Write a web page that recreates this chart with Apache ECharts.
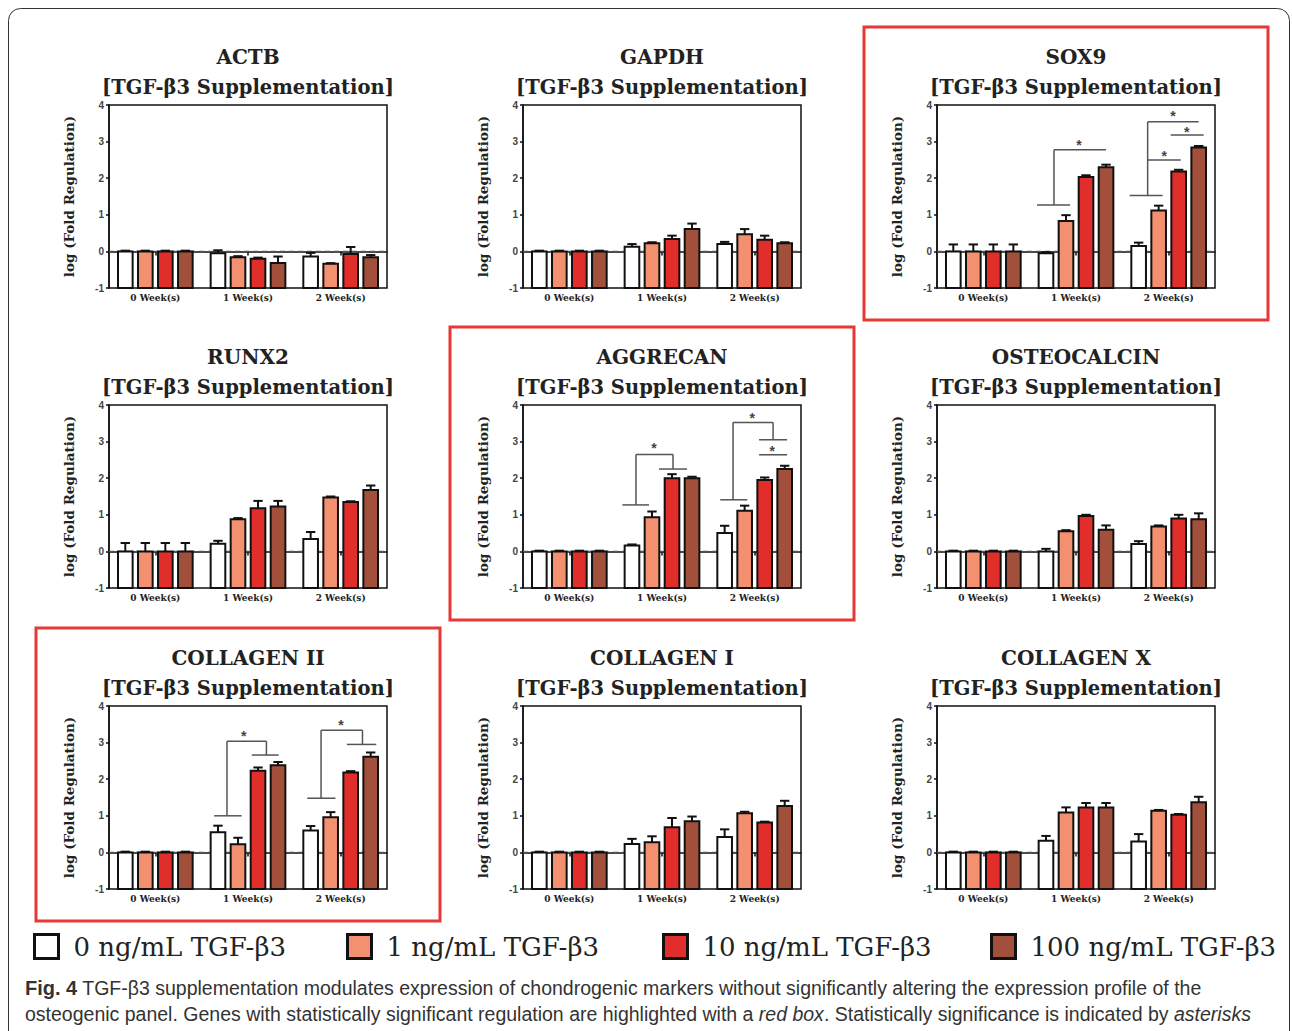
<!DOCTYPE html>
<html>
<head>
<meta charset="utf-8">
<script src="https://cdn.jsdelivr.net/npm/echarts/dist/echarts.min.js"></script>
<style>html,body{margin:0;padding:0;background:#fff}#c{width:1292px;height:1031px}</style>
</head>
<body>
<div id="c"></div>
<script>
// ---------------- DATA ----------------
const weeks = ['0 Week(s)', '1 Week(s)', '2 Week(s)'];
const doses = ['0 ng/mL TGF-β3', '1 ng/mL TGF-β3', '10 ng/mL TGF-β3', '100 ng/mL TGF-β3'];
const genes = ['ACTB', 'GAPDH', 'SOX9', 'RUNX2', 'AGGRECAN', 'OSTEOCALCIN', 'COLLAGEN II', 'COLLAGEN I', 'COLLAGEN X'];
const highlighted = ['SOX9', 'AGGRECAN', 'COLLAGEN II'];
const yTicks = [-1, 0, 1, 2, 3, 4];
const subTitle = '[TGF-β3 Supplementation]';
const yName = 'log (Fold Regulation)';

// mean[dose][week], err[dose][week]
const actbMean = [[0, -0.05, -0.14], [0, -0.16, -0.34], [0, -0.2, -0.07], [0, -0.32, -0.16]];
const actbErr  = [[0.02, 0.08, 0.1], [0.02, 0.03, 0.02], [0.02, 0.03, 0.19], [0.02, 0.18, 0.06]];
const gapdhMean = [[0, 0.13, 0.2], [0, 0.22, 0.47], [0, 0.34, 0.32], [0, 0.61, 0.22]];
const gapdhErr  = [[0.02, 0.07, 0.06], [0.02, 0.03, 0.14], [0.02, 0.09, 0.11], [0.02, 0.15, 0.03]];
const sox9Mean = [[0, -0.05, 0.15], [0, 0.83, 1.12], [0, 2.03, 2.18], [0, 2.3, 2.84]];
const sox9Err  = [[0.19, 0.03, 0.09], [0.19, 0.16, 0.13], [0.19, 0.05, 0.05], [0.19, 0.07, 0.04]];
const runx2Mean = [[0, 0.21, 0.34], [0, 0.88, 1.47], [0, 1.18, 1.35], [0, 1.23, 1.68]];
const runx2Err  = [[0.23, 0.08, 0.19], [0.23, 0.03, 0.03], [0.23, 0.2, 0.02], [0.23, 0.15, 0.12]];
const aggMean = [[0, 0.16, 0.5], [0, 0.93, 1.11], [0, 2.0, 1.95], [0, 2.0, 2.25]];
const aggErr  = [[0.02, 0.03, 0.2], [0.02, 0.16, 0.14], [0.02, 0.11, 0.07], [0.02, 0.04, 0.09]];
const ocnMean = [[0, 0, 0.2], [0, 0.55, 0.68], [0, 0.97, 0.9], [0, 0.59, 0.88]];
const ocnErr  = [[0.02, 0.07, 0.08], [0.02, 0.03, 0.03], [0.02, 0.03, 0.1], [0.02, 0.12, 0.16]];
const col2Mean = [[0, 0.55, 0.6], [0, 0.22, 0.96], [0, 2.23, 2.18], [0, 2.38, 2.61]];
const col2Err  = [[0.02, 0.18, 0.12], [0.02, 0.18, 0.14], [0.02, 0.09, 0.04], [0.02, 0.09, 0.12]];
const col1Mean = [[0, 0.23, 0.42], [0, 0.28, 1.07], [0, 0.69, 0.82], [0, 0.85, 1.27]];
const col1Err  = [[0.02, 0.14, 0.21], [0.02, 0.16, 0.04], [0.02, 0.25, 0.02], [0.02, 0.13, 0.14]];
const col10Mean = [[0, 0.32, 0.3], [0, 1.09, 1.14], [0, 1.23, 1.03], [0, 1.23, 1.37]];
const col10Err  = [[0.02, 0.13, 0.2], [0.02, 0.14, 0.02], [0.02, 0.12, 0.02], [0.02, 0.12, 0.15]];

// significance brackets: [week, slotA, valueA, slotB, valueB]; stars: [week, slot, value]
const sox9Lines = [[1, -0.45, 1.27, 1.2, 1.27], [1, 0.4, 1.27, 0.4, 2.78], [1, 0.4, 2.78, 3.0, 2.78],
  [2, -0.45, 1.53, 1.2, 1.53], [2, 0.45, 1.53, 0.45, 3.54], [2, 0.45, 3.54, 3.0, 3.54],
  [2, 0.45, 2.5, 2.1, 2.5], [2, 1.6, 3.18, 3.25, 3.18]];
const sox9Stars = [[1, 1.65, 3.0], [2, 1.72, 3.77], [2, 1.28, 2.69], [2, 2.4, 3.34]];
const aggLines = [[1, -0.48, 1.27, 0.85, 1.27], [1, 0.2, 1.27, 0.2, 2.65], [1, 0.2, 2.65, 2.05, 2.65],
  [1, 2.05, 2.65, 2.05, 2.25], [1, 1.35, 2.25, 2.75, 2.25],
  [2, -0.22, 1.41, 1.13, 1.41], [2, 0.42, 1.41, 0.42, 3.52], [2, 0.42, 3.52, 2.42, 3.52],
  [2, 2.42, 3.52, 2.42, 3.05], [2, 1.72, 3.05, 3.12, 3.05], [2, 1.72, 2.64, 3.12, 2.64]];
const aggStars = [[1, 1.1, 2.91], [2, 1.38, 3.73], [2, 2.38, 2.82]];
const col2Lines = [[1, -0.19, 1.0, 1.18, 1.0], [1, 0.45, 1.0, 0.45, 3.04], [1, 0.45, 3.04, 2.42, 3.04],
  [1, 2.42, 3.04, 2.42, 2.66], [1, 1.69, 2.66, 3.03, 2.66],
  [2, -0.17, 1.48, 1.24, 1.48], [2, 0.52, 1.48, 0.52, 3.34], [2, 0.52, 3.34, 2.59, 3.34],
  [2, 2.59, 3.34, 2.59, 2.95], [2, 1.81, 2.95, 3.28, 2.95]];
const col2Stars = [[1, 1.29, 3.27], [2, 1.52, 3.56]];

const caption1 = '{b|Fig. 4} TGF-β3 supplementation modulates expression of chondrogenic markers without significantly altering the expression profile of the';
const caption2 = 'osteogenic panel. Genes with statistically significant regulation are highlighted with a {i|red box}. Statistically significance is indicated by {i|asterisks}';

// ---------------- STYLE / LAYOUT ----------------
const colors = ['#FFFFFF', '#F3906F', '#E22E2A', '#A24F3C'];
const colLefts = [109, 523, 937];
const rowTops = [105, 405, 706];
const gridW = 278, gridH = 183;
const PITCH = 0.216, BARW = 0.158;
const SERIF = '"DejaVu Serif", "Liberation Serif", serif';
const SANS = '"Liberation Sans", Arial, sans-serif';

const panelData = [
  [actbMean, actbErr, [], []],
  [gapdhMean, gapdhErr, [], []],
  [sox9Mean, sox9Err, sox9Lines, sox9Stars],
  [runx2Mean, runx2Err, [], []],
  [aggMean, aggErr, aggLines, aggStars],
  [ocnMean, ocnErr, [], []],
  [col2Mean, col2Err, col2Lines, col2Stars],
  [col1Mean, col1Err, [], []],
  [col10Mean, col10Err, [], []]
];

function barRenderer(slot) {
  return function (params, api) {
    const cat = api.value(0), v = api.value(1), e = api.value(2);
    const band = api.size([1, 0])[0];
    const pitch = band * PITCH, bw = band * BARW;
    const top = api.coord([cat, v]);
    const base = api.coord([cat, yTicks[0]]);
    const cx = top[0] + (slot - 1.5) * pitch;
    const ey = api.coord([cat, v + e])[1];
    const cap = bw * 0.32;
    return {
      type: 'group',
      children: [
        { type: 'rect', shape: { x: cx - bw / 2, y: top[1], width: bw, height: base[1] - top[1] },
          style: { fill: colors[slot], stroke: '#111', lineWidth: 2 } },
        { type: 'line', shape: { x1: cx, y1: top[1], x2: cx, y2: ey }, style: { stroke: '#111', lineWidth: 2 } },
        { type: 'line', shape: { x1: cx - cap, y1: ey, x2: cx + cap, y2: ey }, style: { stroke: '#111', lineWidth: 2 } }
      ]
    };
  };
}
function zeroRenderer(params, api) {
  const cs = params.coordSys;
  const y = api.coord([0, 0])[1];
  return { type: 'line', shape: { x1: cs.x, y1: y, x2: cs.x + cs.width, y2: y },
    style: { stroke: '#555', lineWidth: 1.5, lineDash: [5, 4] } };
}
function sigLineRenderer(params, api) {
  const band = api.size([1, 0])[0], pitch = band * PITCH;
  const g = api.value(0);
  const pA = api.coord([g, api.value(2)]), pB = api.coord([g, api.value(4)]);
  return { type: 'line', shape: {
      x1: pA[0] + (api.value(1) - 1.5) * pitch, y1: pA[1],
      x2: pB[0] + (api.value(3) - 1.5) * pitch, y2: pB[1] },
    style: { stroke: '#555', lineWidth: 1.5 } };
}
function sigStarRenderer(params, api) {
  const band = api.size([1, 0])[0], pitch = band * PITCH;
  const g = api.value(0);
  const p = api.coord([g, api.value(2)]);
  return { type: 'text', x: p[0] + (api.value(1) - 1.5) * pitch, y: p[1] + 3,
    style: { text: '*', fill: '#444', font: 'bold 14px ' + SANS,
      align: 'center', verticalAlign: 'middle', textAlign: 'center', textVerticalAlign: 'middle' } };
}

const grids = [], xAxes = [], yAxes = [], series = [], graphics = [];

graphics.push({ type: 'rect', shape: { x: 8.5, y: 8.5, width: 1281, height: 1100, r: 12 },
  style: { fill: 'none', stroke: '#333', lineWidth: 1 }, silent: true });

genes.forEach(function (gene, i) {
  const left = colLefts[i % 3], top = rowTops[Math.floor(i / 3)];
  const [mean, err, lines, stars] = panelData[i];
  grids.push({ left: left, top: top, width: gridW, height: gridH, show: true,
    borderColor: '#111', borderWidth: 1.5, backgroundColor: '#fff', containLabel: false, outerBoundsMode: 'none' });
  xAxes.push({ type: 'category', gridIndex: i, data: weeks,
    axisLine: { lineStyle: { color: '#111', width: 1.5 } },
    axisTick: { show: true, alignWithLabel: true, length: 4, lineStyle: { color: '#111', width: 1.5 } },
    axisLabel: { fontFamily: SERIF, fontWeight: 'bold', fontSize: 9, color: '#222', margin: 5, interval: 0 },
    splitLine: { show: false } });
  yAxes.push({ type: 'value', gridIndex: i, min: yTicks[0], max: yTicks[yTicks.length - 1], interval: 1,
    axisLine: { show: true, lineStyle: { color: '#111', width: 1.5 } },
    axisTick: { show: true, length: 3, lineStyle: { color: '#111', width: 1.5 } },
    axisLabel: { fontFamily: SANS, fontWeight: 'bold', fontSize: 10, color: '#444', margin: 5 },
    splitLine: { show: false },
    name: yName, nameLocation: 'middle', nameGap: 33, nameRotate: 90,
    nameTextStyle: { fontFamily: SERIF, fontWeight: 'bold', fontSize: 13.5, color: '#222' } });

  series.push({ type: 'custom', name: 'zero' + i, xAxisIndex: i, yAxisIndex: i, z: 1, silent: true,
    renderItem: zeroRenderer, data: [[0, 0]], encode: { x: 0, y: 1 } });
  doses.forEach(function (dose, d) {
    series.push({ type: 'custom', name: dose, xAxisIndex: i, yAxisIndex: i, z: 2,
      itemStyle: { color: colors[d], borderColor: '#111', borderWidth: 2 },
      renderItem: barRenderer(d),
      data: weeks.map(function (w, k) { return [k, mean[d][k], err[d][k]]; }),
      encode: { x: 0, y: 1 } });
  });
  if (lines.length) {
    series.push({ type: 'custom', name: 'sig' + i, xAxisIndex: i, yAxisIndex: i, z: 3, silent: true,
      renderItem: sigLineRenderer, data: lines, encode: { x: 0, y: [2, 4] } });
    series.push({ type: 'custom', name: 'star' + i, xAxisIndex: i, yAxisIndex: i, z: 3, silent: true,
      renderItem: sigStarRenderer, data: stars, encode: { x: 0, y: 2 } });
  }

  const cx = left + gridW / 2;
  graphics.push({ type: 'text', x: cx, y: top - 48, silent: true,
    style: { text: gene, fill: '#222', font: 'bold 20px ' + SERIF,
      align: 'center', verticalAlign: 'middle', textAlign: 'center', textVerticalAlign: 'middle' } });
  graphics.push({ type: 'text', x: cx, y: top - 18, silent: true,
    style: { text: subTitle, fill: '#222', font: 'bold 19.5px ' + SERIF,
      align: 'center', verticalAlign: 'middle', textAlign: 'center', textVerticalAlign: 'middle' } });
  if (highlighted.indexOf(gene) >= 0) {
    graphics.push({ type: 'rect', silent: true,
      shape: { x: left - 73, y: top - 78, width: gridW + 126, height: gridH + 110 },
      style: { fill: 'none', stroke: '#E53935', lineWidth: 3 } });
  }
});

graphics.push({ type: 'text', x: 25, y: 975, silent: true,
  style: { text: caption1 + '\n' + caption2, fill: '#333', fontSize: 19.5, fontFamily: SANS, lineHeight: 26,
    rich: { b: { fontWeight: 'bold', fontSize: 20, fontFamily: SANS, fill: '#333' },
            i: { fontStyle: 'italic', fontSize: 19.5, fontFamily: SANS, fill: '#333' } } } });

const legendLefts = [33, 346, 662, 990];
const legends = doses.map(function (dose, d) {
  return { show: true, left: legendLefts[d], top: 933, padding: 0, itemWidth: 24, itemHeight: 24,
    selectedMode: false,
    data: [{ name: dose, icon: 'rect', itemStyle: { color: colors[d], borderColor: '#111', borderWidth: 3 } }],
    textStyle: { fontFamily: SERIF, fontSize: 26, color: '#222', padding: [0, 0, 0, 10] } };
});

const chart = echarts.init(document.getElementById('c'), null, { renderer: 'svg', width: 1292, height: 1031 });
chart.setOption({
  animation: false,
  backgroundColor: '#fff',
  grid: grids,
  xAxis: xAxes,
  yAxis: yAxes,
  legend: legends,
  series: series,
  graphic: { elements: graphics }
});
</script>
</body>
</html>
